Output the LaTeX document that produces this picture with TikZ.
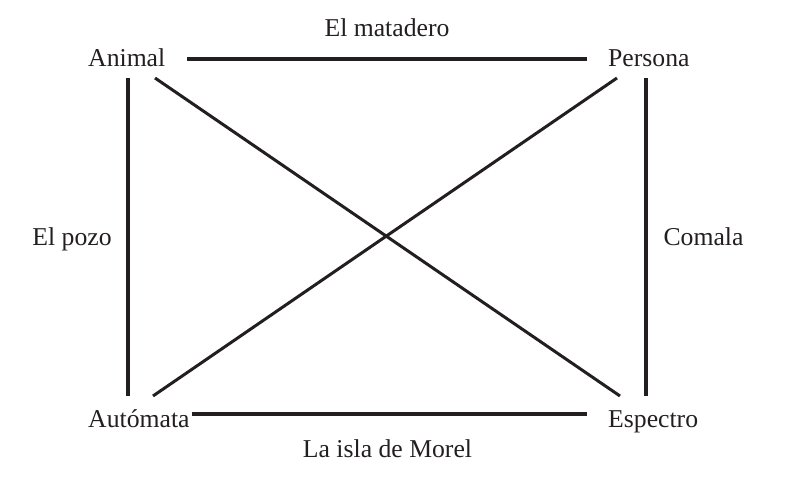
\documentclass[tikz,border=0pt]{standalone}
\usepackage{fontspec}
\setmainfont{Liberation Serif}
\usetikzlibrary{calc}
\definecolor{ink}{HTML}{231F20}
\begin{document}
\begin{tikzpicture}[x=1bp,y=-1bp,
  lbl/.style={inner sep=0pt,text=ink,font=\fontsize{25.7bp}{30bp}\selectfont},
  frame/.style={draw=ink,line width=4bp},
  cross/.style={draw=ink,line width=3bp}]
\useasboundingbox (0,0) rectangle (785,490);
\node[lbl,anchor=base west] (Animal) at (88,67) {Animal};
\node[lbl,anchor=base west] (Persona) at (608,67) {Persona};
\node[lbl,anchor=base west] (Automata) at (88,427) {Autómata};
\node[lbl,anchor=base west] (Espectro) at (608,427) {Espectro};
\node[lbl,anchor=base] (matadero) at (387,37) {El matadero};
\node[lbl,anchor=base] (pozo) at (72,246) {El pozo};
\node[lbl,anchor=base] (comala) at (703.5,246) {Comala};
\node[lbl,anchor=base] (isla) at (387.5,457) {La isla de Morel};
% frame
\draw[frame] ($(Animal.base west)+(99,-8)$) -- ($(Persona.base west)+(-21,-8)$);
\draw[frame] ($(Automata.base west)+(104,-13)$) -- ($(Espectro.base west)+(-21,-13)$);
\draw[frame] ($(Animal.base west)+(40,11)$) -- ($(Automata.base west)+(40,-31)$);
\draw[frame] ($(Persona.base west)+(38,11)$) -- ($(Espectro.base west)+(38,-31)$);
% diagonals
\draw[cross] ($(Animal.base west)+(67,11)$) -- ($(Espectro.base west)+(12,-31)$);
\draw[cross] ($(Persona.base west)+(9,11)$) -- ($(Automata.base west)+(65,-31)$);
\end{tikzpicture}
\end{document}
